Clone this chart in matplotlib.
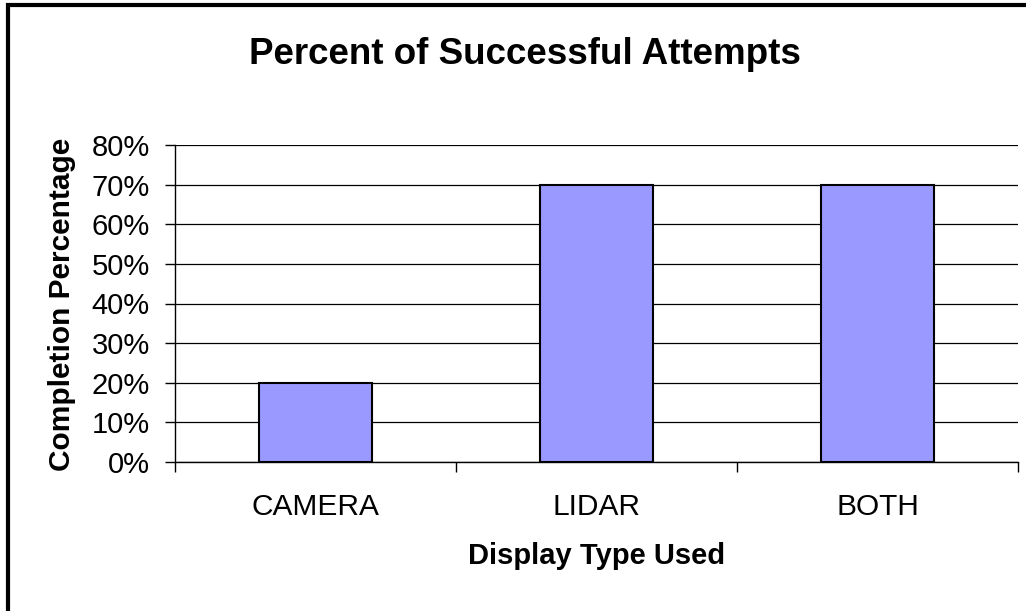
from matplotlib import pyplot as plt
from matplotlib.patches import Rectangle
from matplotlib.ticker import FixedLocator

plt.rcParams['font.family'] = ['Liberation Sans', 'DejaVu Sans']

categories = ['CAMERA', 'LIDAR', 'BOTH']
percent = [20, 70, 70]
y_ticks = [0, 10, 20, 30, 40, 50, 60, 70, 80]

W, H = 1026, 611
fig = plt.figure(figsize=(W / 100, H / 100), dpi=100)
ax = fig.add_axes([175 / W, (H - 462) / H, 843 / W, 317 / H])

x = list(range(len(categories)))
ax.bar(x, percent, width=0.4, color='#9999ff', edgecolor='black', linewidth=1.5, zorder=3)

ax.set_xlim(-0.5, len(categories) - 0.5)
ax.set_ylim(0, 80)
ax.set_yticks(y_ticks)
ax.set_yticklabels([f'{v}%' for v in y_ticks])
ax.yaxis.grid(True, color='black', linewidth=0.9, zorder=0)

ax.set_xticks(x)
ax.set_xticklabels(categories)
ax.xaxis.set_minor_locator(FixedLocator([i - 0.5 for i in range(len(categories) + 1)]))
ax.tick_params(axis='x', which='major', length=0, pad=22, labelsize=21.5)
ax.tick_params(axis='x', which='minor', length=7, width=1, direction='out')
ax.tick_params(axis='y', length=7, width=1, pad=11, labelsize=21)

for side in ['top', 'right']:
    ax.spines[side].set_visible(False)
ax.spines['left'].set_linewidth(1)
ax.spines['bottom'].set_linewidth(1)

fig.text(525 / W, 1 - 55 / H, 'Percent of Successful Attempts', ha='center', va='center',
         fontsize=26.5, fontweight='bold')
fig.text(62 / W, 1 - 304 / H, 'Completion Percentage', ha='center', va='center',
         rotation=90, fontsize=21.5, fontweight='bold')
fig.text(597 / W, 1 - 556 / H, 'Display Type Used', ha='center', va='center',
         fontsize=21, fontweight='bold')

# outer chart border, runs off the right/bottom edge like the original
fig.add_artist(Rectangle((8 / W, -0.05), 1.1, 1 - 5 / H + 0.05, transform=fig.transFigure,
                         fill=False, edgecolor='black', linewidth=3))

fig.savefig('out.png', dpi=100)
